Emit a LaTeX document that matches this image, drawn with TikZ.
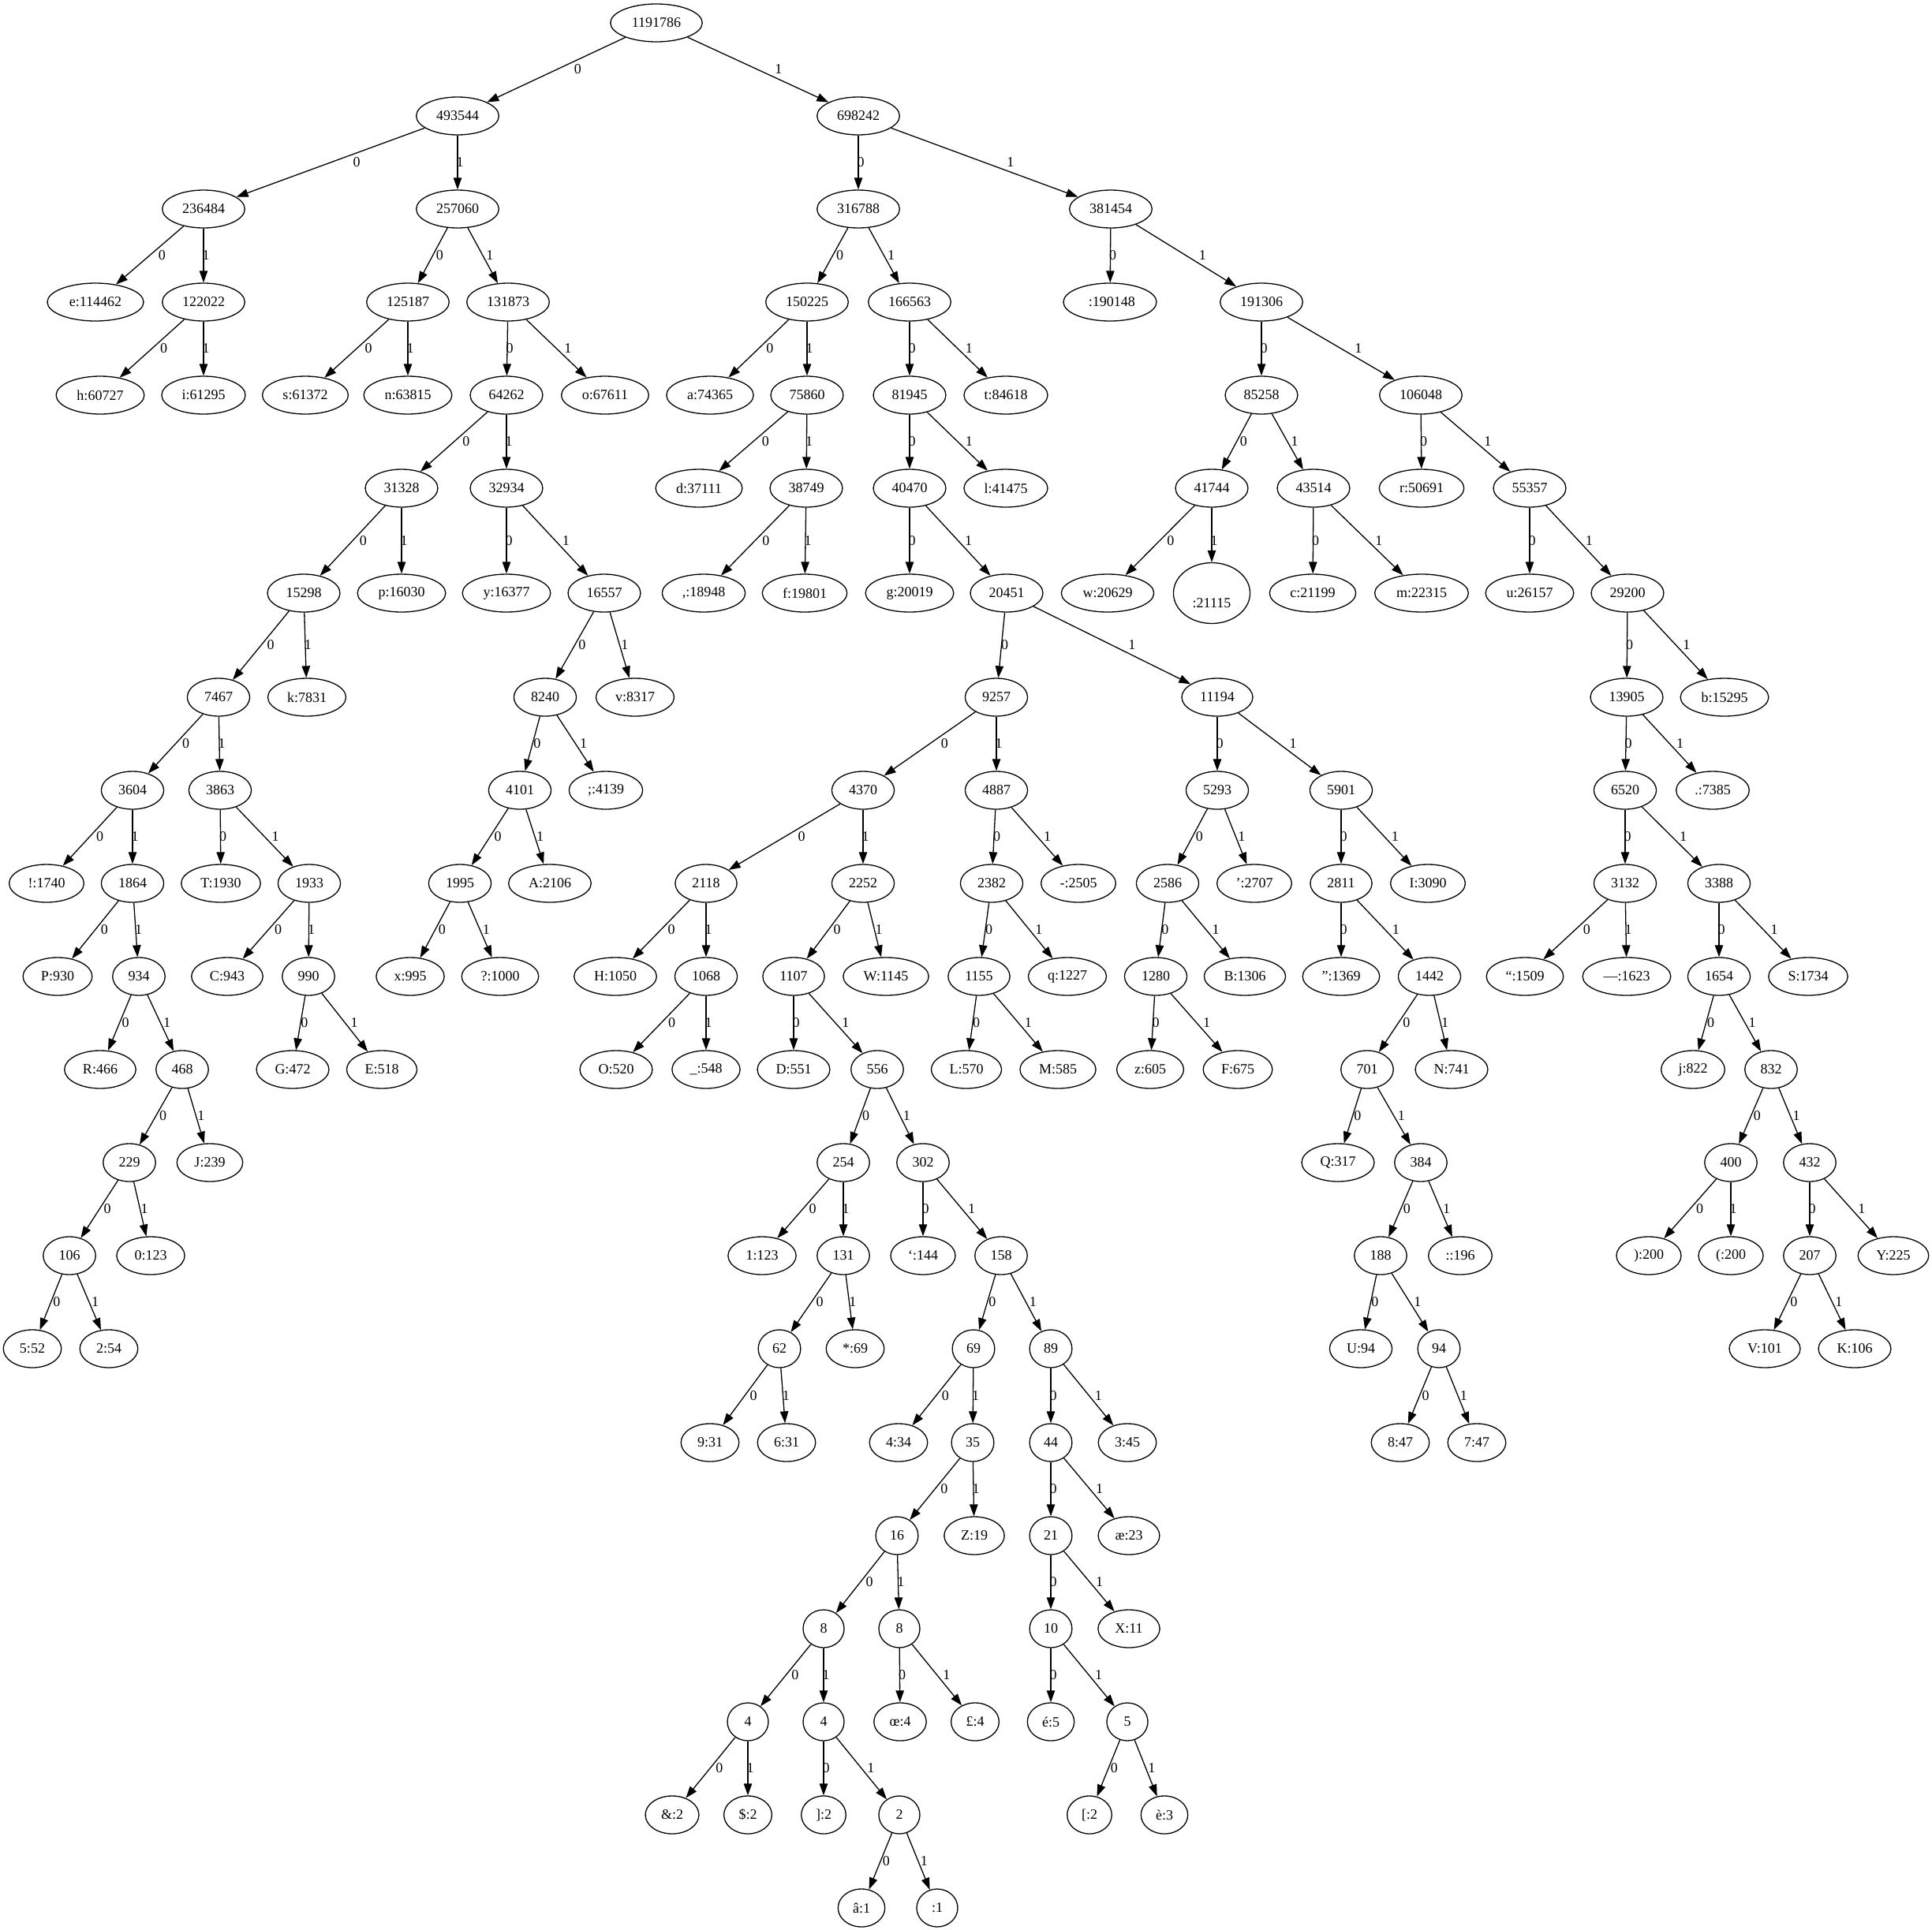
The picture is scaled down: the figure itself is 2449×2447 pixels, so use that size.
\documentclass[tikz,border=0pt]{standalone}
\usepackage{fontspec}
\setmainfont{Liberation Serif}
\usetikzlibrary{shapes.geometric,arrows.meta,calc}

\tikzset{
    huff/.style={ellipse,draw,line width=0.65pt,inner xsep=5pt,inner ysep=2pt,minimum width=26pt,minimum height=24pt},
    tall/.style={align=center,minimum height=38.5pt},
    bit/.style={inner sep=0pt},
    link/.style={-{Triangle[length=7.5pt,width=5.2pt]},line width=0.65pt}
    }

\begin{document}
\begin{tikzpicture}[x=0.5pt, y=-0.5pt, font=\fontsize{9}{11}\selectfont]
                \useasboundingbox (0,0) rectangle (2449,2447);
                % The Tree
                \node[huff] (n1191786) at (832,29) {1191786};
                \node[huff] (n493544) at (580,147) {493544};
                \node[huff] (n698242) at (1088,147) {698242};
                \node[huff] (n236484) at (258,265) {236484};
                \node[huff] (n257060) at (580,265) {257060};
                \node[huff] (n316788) at (1088,265) {316788};
                \node[huff] (n381454) at (1408,265) {381454};
                \node[huff] (e) at (121,383) {e:114462};
                \node[huff] (n122022) at (258,383) {122022};
                \node[huff] (n125187) at (517,383) {125187};
                \node[huff] (n131873) at (644,383) {131873};
                \node[huff] (n150225) at (1023,383) {150225};
                \node[huff] (n166563) at (1153,383) {166563};
                \node[huff] (space) at (1407,383) {\ :190148};
                \node[huff] (n191306) at (1599,383) {191306};
                \node[huff] (h) at (127,501) {h:60727};
                \node[huff] (i) at (258,501) {i:61295};
                \node[huff] (s) at (387,501) {s:61372};
                \node[huff] (n) at (517,501) {n:63815};
                \node[huff] (n64262) at (642,501) {64262};
                \node[huff] (o) at (767,501) {o:67611};
                \node[huff] (a) at (900,501) {a:74365};
                \node[huff] (n75860) at (1023,501) {75860};
                \node[huff] (n81945) at (1153,501) {81945};
                \node[huff] (t) at (1275,501) {t:84618};
                \node[huff] (n85258) at (1599,501) {85258};
                \node[huff] (n106048) at (1801,501) {106048};
                \node[huff] (n31328) at (509,619) {31328};
                \node[huff] (n32934) at (642,619) {32934};
                \node[huff] (d) at (886,619) {d:37111};
                \node[huff] (n38749) at (1022,619) {38749};
                \node[huff] (n40470) at (1153,619) {40470};
                \node[huff] (l) at (1275,619) {l:41475};
                \node[huff] (n41744) at (1536,619) {41744};
                \node[huff] (n43514) at (1665,619) {43514};
                \node[huff] (r) at (1802,619) {r:50691};
                \node[huff] (n55357) at (1939,619) {55357};
                \node[huff] (n15298) at (385,752) {15298};
                \node[huff] (p) at (509,752) {p:16030};
                \node[huff] (y) at (642,752) {y:16377};
                \node[huff] (n16557) at (766,752) {16557};
                \node[huff] (comma) at (892,752) {,:18948};
                \node[huff] (f) at (1020,752) {f:19801};
                \node[huff] (g) at (1153,752) {g:20019};
                \node[huff] (n20451) at (1276,752) {20451};
                \node[huff] (w) at (1404,752) {w:20629};
                \node[huff, tall] (nl) at (1536,752) {\strut\\:21115};
                \node[huff] (c) at (1664,752) {c:21199};
                \node[huff] (m) at (1802,752) {m:22315};
                \node[huff] (u) at (1939,752) {u:26157};
                \node[huff] (n29200) at (2063,752) {29200};
                \node[huff] (n7467) at (277,884) {7467};
                \node[huff] (k) at (389,884) {k:7831};
                \node[huff] (n8240) at (691,884) {8240};
                \node[huff] (v) at (805,884) {v:8317};
                \node[huff] (n9257) at (1263,884) {9257};
                \node[huff] (n11194) at (1543,884) {11194};
                \node[huff] (n13905) at (2062,884) {13905};
                \node[huff] (b) at (2186,884) {b:15295};
                \node[huff] (n3604) at (168,1002) {3604};
                \node[huff] (n3863) at (279,1002) {3863};
                \node[huff] (n4101) at (659,1002) {4101};
                \node[huff] (semi) at (768,1002) {;:4139};
                \node[huff] (n4370) at (1094,1002) {4370};
                \node[huff] (n4887) at (1263,1002) {4887};
                \node[huff] (n5293) at (1543,1002) {5293};
                \node[huff] (n5901) at (1700,1002) {5901};
                \node[huff] (n6520) at (2060,1002) {6520};
                \node[huff] (period) at (2171,1002) {.:7385};
                \node[huff] (excl) at (59,1120) {!:1740};
                \node[huff] (n1864) at (168,1120) {1864};
                \node[huff] (T) at (280,1120) {T:1930};
                \node[huff] (n1933) at (392,1120) {1933};
                \node[huff] (n1995) at (583,1120) {1995};
                \node[huff] (A) at (697,1120) {A:2106};
                \node[huff] (n2118) at (895,1120) {2118};
                \node[huff] (n2252) at (1094,1120) {2252};
                \node[huff] (n2382) at (1257,1120) {2382};
                \node[huff] (hyph) at (1367,1120) {-:2505};
                \node[huff] (n2586) at (1480,1120) {2586};
                \node[huff] (rsq) at (1590,1120) {’:2707};
                \node[huff] (n2811) at (1700,1120) {2811};
                \node[huff] (I) at (1810,1120) {I:3090};
                \node[huff] (n3132) at (2060,1120) {3132};
                \node[huff] (n3388) at (2179,1120) {3388};
                \node[huff] (P) at (73,1238) {P:930};
                \node[huff] (n934) at (176,1238) {934};
                \node[huff] (C) at (288,1238) {C:943};
                \node[huff] (n990) at (391,1238) {990};
                \node[huff] (x) at (520,1238) {x:995};
                \node[huff] (quest) at (634,1238) {?:1000};
                \node[huff] (H) at (780,1238) {H:1050};
                \node[huff] (n1068) at (895,1238) {1068};
                \node[huff] (n1107) at (1006,1238) {1107};
                \node[huff] (W) at (1123,1238) {W:1145};
                \node[huff] (n1155) at (1241,1238) {1155};
                \node[huff] (q) at (1353,1238) {q:1227};
                \node[huff] (n1280) at (1465,1238) {1280};
                \node[huff] (B) at (1578,1238) {B:1306};
                \node[huff] (rdq) at (1700,1238) {”:1369};
                \node[huff] (n1442) at (1812,1238) {1442};
                \node[huff] (ldq) at (1933,1238) {“:1509};
                \node[huff] (emdash) at (2062,1238) {—:1623};
                \node[huff] (n1654) at (2179,1238) {1654};
                \node[huff] (S) at (2292,1238) {S:1734};
                \node[huff] (R) at (127,1356) {R:466};
                \node[huff] (n468) at (231,1356) {468};
                \node[huff] (G) at (371,1356) {G:472};
                \node[huff] (E) at (484,1356) {E:518};
                \node[huff] (O) at (781,1356) {O:520};
                \node[huff] (under) at (895,1356) {\_:548};
                \node[huff] (D) at (1006,1356) {D:551};
                \node[huff] (n556) at (1112,1356) {556};
                \node[huff] (L) at (1225,1356) {L:570};
                \node[huff] (M) at (1341,1356) {M:585};
                \node[huff] (z) at (1458,1356) {z:605};
                \node[huff] (F) at (1569,1356) {F:675};
                \node[huff] (n701) at (1733,1356) {701};
                \node[huff] (N) at (1840,1356) {N:741};
                \node[huff] (j) at (2146,1356) {j:822};
                \node[huff] (n832) at (2245,1356) {832};
                \node[huff] (n229) at (164,1474) {229};
                \node[huff] (J) at (266,1474) {J:239};
                \node[huff] (n254) at (1069,1474) {254};
                \node[huff] (n302) at (1170,1474) {302};
                \node[huff] (Q) at (1696,1474) {Q:317};
                \node[huff] (n384) at (1801,1474) {384};
                \node[huff] (n400) at (2194,1474) {400};
                \node[huff] (n432) at (2294,1474) {432};
                \node[huff] (n106) at (88,1592) {106};
                \node[huff] (zero) at (191,1592) {0:123};
                \node[huff] (one) at (966,1592) {1:123};
                \node[huff] (n131) at (1069,1592) {131};
                \node[huff] (lsq) at (1170,1592) {‘:144};
                \node[huff] (n158) at (1269,1592) {158};
                \node[huff] (n188) at (1750,1592) {188};
                \node[huff] (colon) at (1851,1592) {::196};
                \node[huff] (rpar) at (2090,1592) {):200};
                \node[huff] (lpar) at (2194,1592) {(:200};
                \node[huff] (n207) at (2294,1592) {207};
                \node[huff] (Y) at (2400,1592) {Y:225};
                \node[huff] (five) at (41,1710) {5:52};
                \node[huff] (two) at (138,1710) {2:54};
                \node[huff] (n62) at (988,1710) {62};
                \node[huff] (star) at (1084,1710) {*:69};
                \node[huff] (n69) at (1234,1710) {69};
                \node[huff] (n89) at (1332,1710) {89};
                \node[huff] (U) at (1725,1710) {U:94};
                \node[huff] (n94) at (1824,1710) {94};
                \node[huff] (V) at (2237,1710) {V:101};
                \node[huff] (K) at (2351,1710) {K:106};
                \node[huff] (nine) at (900,1829) {9:31};
                \node[huff] (six) at (997,1829) {6:31};
                \node[huff] (four) at (1139,1829) {4:34};
                \node[huff] (n35) at (1233,1829) {35};
                \node[huff] (n44) at (1332,1829) {44};
                \node[huff] (three) at (1429,1829) {3:45};
                \node[huff] (eight) at (1775,1829) {8:47};
                \node[huff] (seven) at (1872,1829) {7:47};
                \node[huff] (n16) at (1137,1947) {16};
                \node[huff] (Z) at (1235,1947) {Z:19};
                \node[huff] (n21) at (1332,1947) {21};
                \node[huff] (ae) at (1431,1947) {æ:23};
                \node[huff] (n8a) at (1044,2065) {8};
                \node[huff] (n8b) at (1140,2065) {8};
                \node[huff] (n10) at (1332,2065) {10};
                \node[huff] (X) at (1431,2065) {X:11};
                \node[huff] (n4a) at (948,2183) {4};
                \node[huff] (n4b) at (1044,2183) {4};
                \node[huff] (oe) at (1141,2183) {œ:4};
                \node[huff] (pound) at (1236,2183) {£:4};
                \node[huff] (eacute) at (1332,2183) {é:5};
                \node[huff] (n5) at (1429,2183) {5};
                \node[huff] (amp) at (852,2301) {\&:2};
                \node[huff] (dollar) at (948,2301) {\$:2};
                \node[huff] (rbrack) at (1044,2301) {]:2};
                \node[huff] (n2) at (1140,2301) {2};
                \node[huff] (lbrack) at (1381,2301) {[:2};
                \node[huff] (egrave) at (1476,2301) {è:3};
                \node[huff] (acirc) at (1092,2419) {â:1};
                \node[huff] (ctrl) at (1188,2419) {:1};
                % The Edges
                \foreach \pa/\ch/\lb in {
                    n1191786/n493544/0, n1191786/n698242/1,
                    n493544/n236484/0, n493544/n257060/1,
                    n698242/n316788/0, n698242/n381454/1,
                    n236484/e/0, n236484/n122022/1,
                    n122022/h/0, n122022/i/1,
                    n257060/n125187/0, n257060/n131873/1,
                    n125187/s/0, n125187/n/1,
                    n131873/n64262/0, n131873/o/1,
                    n64262/n31328/0, n64262/n32934/1,
                    n31328/n15298/0, n31328/p/1,
                    n15298/n7467/0, n15298/k/1,
                    n7467/n3604/0, n7467/n3863/1,
                    n3604/excl/0, n3604/n1864/1,
                    n1864/P/0, n1864/n934/1,
                    n934/R/0, n934/n468/1,
                    n468/n229/0, n468/J/1,
                    n229/n106/0, n229/zero/1,
                    n106/five/0, n106/two/1,
                    n3863/T/0, n3863/n1933/1,
                    n1933/C/0, n1933/n990/1,
                    n990/G/0, n990/E/1,
                    n32934/y/0, n32934/n16557/1,
                    n16557/n8240/0, n16557/v/1,
                    n8240/n4101/0, n8240/semi/1,
                    n4101/n1995/0, n4101/A/1,
                    n1995/x/0, n1995/quest/1,
                    n316788/n150225/0, n316788/n166563/1,
                    n150225/a/0, n150225/n75860/1,
                    n75860/d/0, n75860/n38749/1,
                    n38749/comma/0, n38749/f/1,
                    n166563/n81945/0, n166563/t/1,
                    n81945/n40470/0, n81945/l/1,
                    n40470/g/0, n40470/n20451/1,
                    n20451/n9257/0, n20451/n11194/1,
                    n9257/n4370/0, n9257/n4887/1,
                    n4370/n2118/0, n4370/n2252/1,
                    n2118/H/0, n2118/n1068/1,
                    n1068/O/0, n1068/under/1,
                    n2252/n1107/0, n2252/W/1,
                    n1107/D/0, n1107/n556/1,
                    n556/n254/0, n556/n302/1,
                    n254/one/0, n254/n131/1,
                    n131/n62/0, n131/star/1,
                    n62/nine/0, n62/six/1,
                    n302/lsq/0, n302/n158/1,
                    n158/n69/0, n158/n89/1,
                    n69/four/0, n69/n35/1,
                    n35/n16/0, n35/Z/1,
                    n16/n8a/0, n16/n8b/1,
                    n8a/n4a/0, n8a/n4b/1,
                    n4a/amp/0, n4a/dollar/1,
                    n4b/rbrack/0, n4b/n2/1,
                    n2/acirc/0, n2/ctrl/1,
                    n8b/oe/0, n8b/pound/1,
                    n89/n44/0, n89/three/1,
                    n44/n21/0, n44/ae/1,
                    n21/n10/0, n21/X/1,
                    n10/eacute/0, n10/n5/1,
                    n5/lbrack/0, n5/egrave/1,
                    n4887/n2382/0, n4887/hyph/1,
                    n2382/n1155/0, n2382/q/1,
                    n1155/L/0, n1155/M/1,
                    n11194/n5293/0, n11194/n5901/1,
                    n5293/n2586/0, n5293/rsq/1,
                    n2586/n1280/0, n2586/B/1,
                    n1280/z/0, n1280/F/1,
                    n5901/n2811/0, n5901/I/1,
                    n2811/rdq/0, n2811/n1442/1,
                    n1442/n701/0, n1442/N/1,
                    n701/Q/0, n701/n384/1,
                    n384/n188/0, n384/colon/1,
                    n188/U/0, n188/n94/1,
                    n94/eight/0, n94/seven/1,
                    n381454/space/0, n381454/n191306/1,
                    n191306/n85258/0, n191306/n106048/1,
                    n85258/n41744/0, n85258/n43514/1,
                    n41744/w/0, n41744/nl/1,
                    n43514/c/0, n43514/m/1,
                    n106048/r/0, n106048/n55357/1,
                    n55357/u/0, n55357/n29200/1,
                    n29200/n13905/0, n29200/b/1,
                    n13905/n6520/0, n13905/period/1,
                    n6520/n3132/0, n6520/n3388/1,
                    n3132/ldq/0, n3132/emdash/1,
                    n3388/n1654/0, n3388/S/1,
                    n1654/j/0, n1654/n832/1,
                    n832/n400/0, n832/n432/1,
                    n400/rpar/0, n400/lpar/1,
                    n432/n207/0, n432/Y/1,
                    n207/V/0, n207/K/1}{
                    \draw[link] (\pa) -- (\ch);
                    \path let \p1=(\pa.center), \p2=(\ch.center),
                        \n1={1.5pt+5.5*abs(\x2-\x1)/abs(\y2-\y1)} in
                        node[bit, xshift=\n1] at ($(\p1)!0.5!(\p2)$) {\lb};
                }
            \end{tikzpicture}
\end{document}
